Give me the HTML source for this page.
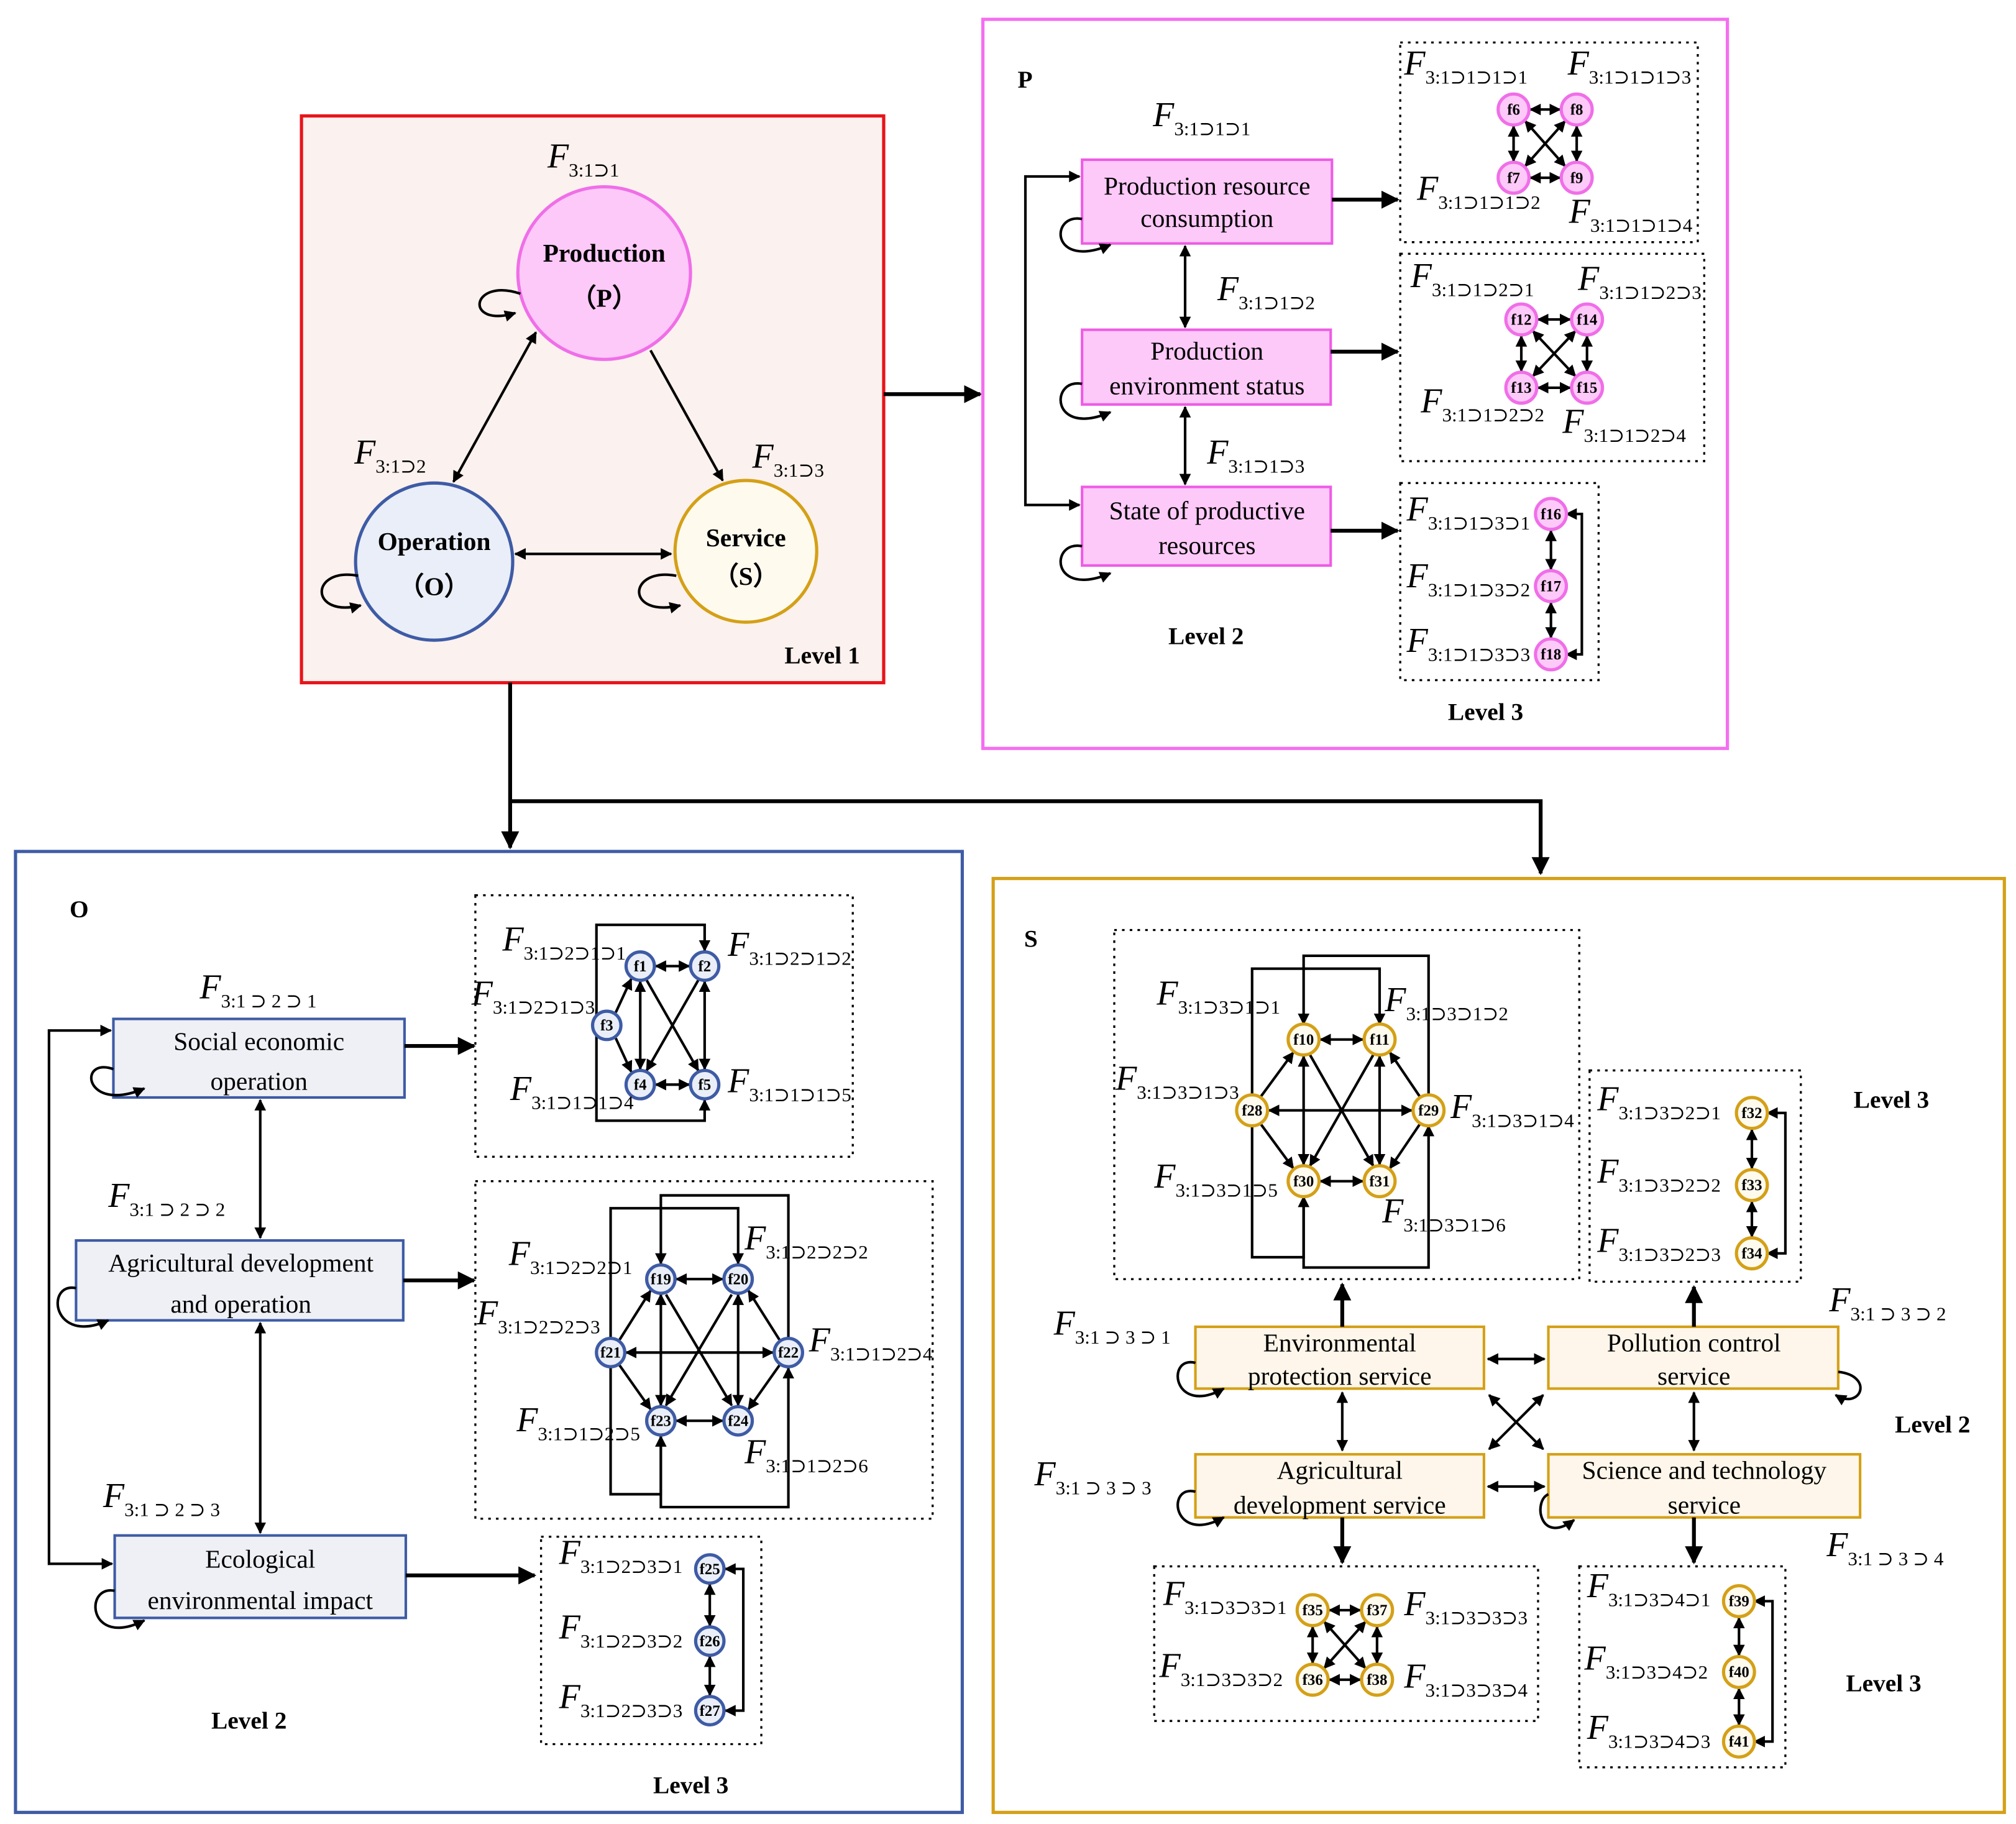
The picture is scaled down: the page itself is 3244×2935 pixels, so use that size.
<!DOCTYPE html>
<html><head><meta charset="utf-8"><style>
html,body{margin:0;padding:0;background:#fff}
svg{display:block}
text{font-family:"Liberation Serif","DejaVu Serif",serif;fill:#000}
.F{font-size:27px;font-style:italic}
.s{font-size:15px;font-style:normal}
.n{font-size:12px;font-weight:bold;text-anchor:middle}
.b{font-size:20px;text-anchor:middle}
.L{font-size:19px;font-weight:bold}
.a{stroke:#000;stroke-width:2;fill:none}
.ad{stroke:#000;stroke-width:2;fill:none;marker-end:url(#m);marker-start:url(#m)}
.ae{stroke:#000;stroke-width:2;fill:none;marker-end:url(#m)}
.ab{stroke:#000;stroke-width:3;fill:none;marker-end:url(#M)}
.dot{fill:none;stroke:#000;stroke-width:1.6;stroke-dasharray:2 4}
.pc{fill:#fdc9f8;stroke:#f06ee8;stroke-width:2.5}
.oc{fill:#e9eef8;stroke:#3e5ba5;stroke-width:2.5}
.sc{fill:#fffaee;stroke:#d4a017;stroke-width:2.5}
</style></head><body>
<svg width="3244" height="2935" viewBox="0 0 1565 1416" xmlns="http://www.w3.org/2000/svg">
<defs>
<marker id="m" viewBox="0 0 10 10" refX="9" refY="5" markerWidth="9" markerHeight="9" markerUnits="userSpaceOnUse" orient="auto-start-reverse"><path d="M0,0 L10,5 L0,10 z" fill="#000"/></marker>
<marker id="M" viewBox="0 0 10 10" refX="9" refY="5" markerWidth="14" markerHeight="14" markerUnits="userSpaceOnUse" orient="auto-start-reverse"><path d="M0,0 L10,5 L0,10 z" fill="#000"/></marker>
</defs>
<rect width="1565" height="1416" fill="#fff"/>

<!-- Level 1 -->
<rect x="234" y="90" width="452" height="440" fill="#fbf1ee" stroke="#e8141b" stroke-width="2.5"/>
<circle cx="469" cy="212" r="67" fill="#fdc9f8" stroke="#f06ee8" stroke-width="2.5"/>
<circle cx="337" cy="436" r="61" fill="#e9eef8" stroke="#3e5ba5" stroke-width="2.5"/>
<circle cx="579" cy="428" r="55" fill="#fffaee" stroke="#d4a017" stroke-width="2.5"/>
<text x="469" y="203" class="b" font-weight="bold">Production</text>
<text x="469" y="238" class="b" font-weight="bold">（P）</text>
<text x="337" y="427" class="b" font-weight="bold">Operation</text>
<text x="337" y="462" class="b" font-weight="bold">（O）</text>
<text x="579" y="424" class="b" font-weight="bold">Service</text>
<text x="579" y="454" class="b" font-weight="bold">（S）</text>
<text x="425" y="130" class="F">F<tspan class="s" dy="7">3:1⊃1</tspan></text>
<text x="275" y="360" class="F">F<tspan class="s" dy="7">3:1⊃2</tspan></text>
<text x="584" y="363" class="F">F<tspan class="s" dy="7">3:1⊃3</tspan></text>
<line x1="416" y1="258" x2="352" y2="374" class="ad"/>
<line x1="505" y1="272" x2="561" y2="373" class="ae"/>
<line x1="400" y1="430" x2="521" y2="430" class="ad"/>
<path d="M404,228 C365,215 360,255 400,243" class="ae"/>
<path d="M278,447 C240,440 240,480 280,470" class="ae"/>
<path d="M525,447 C487,440 485,480 528,470" class="ae"/>
<text x="609" y="515" class="L">Level 1</text>

<line x1="686" y1="306" x2="761" y2="306" class="ab"/>
<polyline points="396,530 396,658" class="ab"/>
<polyline points="396,622 1196,622 1196,678" class="ab"/>

<!-- P panel -->
<rect x="763" y="15" width="578" height="566" fill="#fff" stroke="#f46ef0" stroke-width="2.5"/>
<text x="790" y="68" class="L" font-size="22">P</text>
<rect x="840" y="124" width="194" height="65" fill="#fdc9f8" stroke="#ee5ce6" stroke-width="2"/>
<rect x="840" y="256" width="193" height="58" fill="#fdc9f8" stroke="#ee5ce6" stroke-width="2"/>
<rect x="840" y="378" width="193" height="61" fill="#fdc9f8" stroke="#ee5ce6" stroke-width="2"/>
<text x="937" y="151" class="b">Production resource</text><text x="937" y="176" class="b">consumption</text>
<text x="937" y="279" class="b">Production</text><text x="937" y="306" class="b">environment status</text>
<text x="937" y="403" class="b">State of productive</text><text x="937" y="430" class="b">resources</text>
<polyline points="838,137 796,137 796,392 838,392" class="ad"/>
<path d="M840,170 C815,165 815,210 862,190" class="ae"/>
<path d="M840,298 C815,293 815,340 862,320" class="ae"/>
<path d="M840,424 C815,419 815,465 862,445" class="ae"/>
<line x1="920" y1="191" x2="920" y2="254" class="ad"/>
<line x1="920" y1="316" x2="920" y2="376" class="ad"/>
<text x="895" y="98" class="F">F<tspan class="s" dy="7">3:1⊃1⊃1</tspan></text>
<text x="945" y="233" class="F">F<tspan class="s" dy="7">3:1⊃1⊃2</tspan></text>
<text x="937" y="360" class="F">F<tspan class="s" dy="7">3:1⊃1⊃3</tspan></text>
<line x1="1034" y1="155" x2="1085" y2="155" class="ab"/>
<line x1="1033" y1="273" x2="1085" y2="273" class="ab"/>
<line x1="1033" y1="412" x2="1085" y2="412" class="ab"/>

<rect x="1087" y="33" width="231" height="155" class="dot"/>
<rect x="1087" y="197" width="236" height="161" class="dot"/>
<rect x="1087" y="375" width="154" height="153" class="dot"/>
<!-- group P1 -->
<line x1="1188" y1="85" x2="1211" y2="85" class="ad"/><line x1="1188" y1="138" x2="1211" y2="138" class="ad"/>
<line x1="1175" y1="98" x2="1175" y2="125" class="ad"/><line x1="1224" y1="98" x2="1224" y2="125" class="ad"/>
<line x1="1184" y1="94" x2="1215" y2="129" class="ad"/><line x1="1215" y1="94" x2="1184" y2="129" class="ad"/>
<circle cx="1175" cy="85" r="12" class="pc"/><text x="1175" y="89" class="n">f6</text>
<circle cx="1224" cy="85" r="12" class="pc"/><text x="1224" y="89" class="n">f8</text>
<circle cx="1175" cy="138" r="12" class="pc"/><text x="1175" y="142" class="n">f7</text>
<circle cx="1224" cy="138" r="12" class="pc"/><text x="1224" y="142" class="n">f9</text>
<text x="1090" y="58" class="F">F<tspan class="s" dy="7">3:1⊃1⊃1⊃1</tspan></text>
<text x="1217" y="58" class="F">F<tspan class="s" dy="7">3:1⊃1⊃1⊃3</tspan></text>
<text x="1100" y="155" class="F">F<tspan class="s" dy="7">3:1⊃1⊃1⊃2</tspan></text>
<text x="1218" y="173" class="F">F<tspan class="s" dy="7">3:1⊃1⊃1⊃4</tspan></text>
<!-- group P2 -->
<line x1="1194" y1="248" x2="1219" y2="248" class="ad"/><line x1="1194" y1="301" x2="1219" y2="301" class="ad"/>
<line x1="1181" y1="261" x2="1181" y2="288" class="ad"/><line x1="1232" y1="261" x2="1232" y2="288" class="ad"/>
<line x1="1190" y1="257" x2="1223" y2="292" class="ad"/><line x1="1223" y1="257" x2="1190" y2="292" class="ad"/>
<circle cx="1181" cy="248" r="12" class="pc"/><text x="1181" y="252" class="n">f12</text>
<circle cx="1232" cy="248" r="12" class="pc"/><text x="1232" y="252" class="n">f14</text>
<circle cx="1181" cy="301" r="12" class="pc"/><text x="1181" y="305" class="n">f13</text>
<circle cx="1232" cy="301" r="12" class="pc"/><text x="1232" y="305" class="n">f15</text>
<text x="1095" y="223" class="F">F<tspan class="s" dy="7">3:1⊃1⊃2⊃1</tspan></text>
<text x="1225" y="225" class="F">F<tspan class="s" dy="7">3:1⊃1⊃2⊃3</tspan></text>
<text x="1103" y="320" class="F">F<tspan class="s" dy="7">3:1⊃1⊃2⊃2</tspan></text>
<text x="1213" y="336" class="F">F<tspan class="s" dy="7">3:1⊃1⊃2⊃4</tspan></text>
<!-- group P3 -->
<line x1="1204" y1="412" x2="1204" y2="442" class="ad"/><line x1="1204" y1="468" x2="1204" y2="495" class="ad"/>
<path d="M1216,399 L1228,399 L1228,508 L1216,508" class="ad"/>
<circle cx="1204" cy="399" r="12" class="pc"/><text x="1204" y="403" class="n">f16</text>
<circle cx="1204" cy="455" r="12" class="pc"/><text x="1204" y="459" class="n">f17</text>
<circle cx="1204" cy="508" r="12" class="pc"/><text x="1204" y="512" class="n">f18</text>
<text x="1092" y="404" class="F">F<tspan class="s" dy="7">3:1⊃1⊃3⊃1</tspan></text>
<text x="1092" y="456" class="F">F<tspan class="s" dy="7">3:1⊃1⊃3⊃2</tspan></text>
<text x="1092" y="506" class="F">F<tspan class="s" dy="7">3:1⊃1⊃3⊃3</tspan></text>
<text x="907" y="500" class="L">Level 2</text>
<text x="1124" y="559" class="L">Level 3</text>

<!-- O panel -->
<rect x="12" y="661" width="735" height="746" fill="#fff" stroke="#3e5ba5" stroke-width="2.5"/>
<text x="54" y="712" class="L" font-size="22">O</text>
<rect x="88" y="791" width="226" height="61" fill="#eef0f5" stroke="#3e5ba5" stroke-width="2"/>
<rect x="59" y="963" width="254" height="62" fill="#eef0f5" stroke="#3e5ba5" stroke-width="2"/>
<rect x="89" y="1192" width="226" height="64" fill="#eef0f5" stroke="#3e5ba5" stroke-width="2"/>
<text x="201" y="815" class="b">Social economic</text><text x="201" y="846" class="b">operation</text>
<text x="187" y="987" class="b">Agricultural development</text><text x="187" y="1019" class="b">and operation</text>
<text x="202" y="1217" class="b">Ecological</text><text x="202" y="1249" class="b">environmental impact</text>
<polyline points="86,800 38,800 38,1214 87,1214" class="ad"/>
<path d="M88,830 C60,820 65,865 112,845" class="ae"/>
<path d="M59,1000 C35,995 40,1045 84,1025" class="ae"/>
<path d="M89,1235 C65,1230 68,1280 112,1258" class="ae"/>
<line x1="202" y1="854" x2="202" y2="961" class="ad"/>
<line x1="202" y1="1027" x2="202" y2="1190" class="ad"/>
<text x="155" y="775" class="F">F<tspan class="s" dy="7">3:1 ⊃ 2 ⊃ 1</tspan></text>
<text x="84" y="937" class="F">F<tspan class="s" dy="7">3:1 ⊃ 2 ⊃ 2</tspan></text>
<text x="80" y="1170" class="F">F<tspan class="s" dy="7">3:1 ⊃ 2 ⊃ 3</tspan></text>
<line x1="314" y1="812" x2="368" y2="812" class="ab"/>
<line x1="313" y1="994" x2="368" y2="994" class="ab"/>
<line x1="315" y1="1223" x2="415" y2="1223" class="ab"/>
<rect x="369" y="695" width="293" height="203" class="dot"/>
<rect x="369" y="917" width="355" height="262" class="dot"/>
<rect x="420" y="1193" width="171" height="161" class="dot"/>
<!-- O group 1 -->
<line x1="509" y1="750" x2="535" y2="750" class="ad"/>
<line x1="509" y1="842" x2="535" y2="842" class="ad"/>
<line x1="497" y1="762" x2="497" y2="830" class="ad"/>
<line x1="547" y1="762" x2="547" y2="830" class="ad"/>
<line x1="478" y1="786" x2="490" y2="760" class="ae"/>
<line x1="478" y1="806" x2="490" y2="832" class="ae"/>
<line x1="502" y1="761" x2="542" y2="831" class="ae"/>
<line x1="542" y1="761" x2="502" y2="831" class="ae"/>
<polyline points="463,796 463,718 547,718 547,738" class="ae"/>
<polyline points="463,796 463,870 547,870 547,854" class="ae"/>
<circle cx="497" cy="750" r="11" class="oc"/><text x="497" y="754" class="n">f1</text>
<circle cx="547" cy="750" r="11" class="oc"/><text x="547" y="754" class="n">f2</text>
<circle cx="471" cy="796" r="11" class="oc"/><text x="471" y="800" class="n">f3</text>
<circle cx="497" cy="842" r="11" class="oc"/><text x="497" y="846" class="n">f4</text>
<circle cx="547" cy="842" r="11" class="oc"/><text x="547" y="846" class="n">f5</text>
<text x="390" y="738" class="F">F<tspan class="s" dy="7">3:1⊃2⊃1⊃1</tspan></text>
<text x="565" y="742" class="F">F<tspan class="s" dy="7">3:1⊃2⊃1⊃2</tspan></text>
<text x="366" y="780" class="F">F<tspan class="s" dy="7">3:1⊃2⊃1⊃3</tspan></text>
<text x="396" y="854" class="F">F<tspan class="s" dy="7">3:1⊃1⊃1⊃4</tspan></text>
<text x="565" y="848" class="F">F<tspan class="s" dy="7">3:1⊃1⊃1⊃5</tspan></text>
<!-- O group 2 -->
<line x1="525" y1="993" x2="561" y2="993" class="ad"/>
<line x1="525" y1="1103" x2="561" y2="1103" class="ad"/>
<line x1="486" y1="1050" x2="600" y2="1050" class="ad"/>
<line x1="513" y1="1005" x2="513" y2="1091" class="ad"/>
<line x1="573" y1="1005" x2="573" y2="1091" class="ad"/>
<line x1="481" y1="1040" x2="505" y2="1002" class="ae"/>
<line x1="481" y1="1060" x2="505" y2="1094" class="ae"/>
<line x1="605" y1="1040" x2="581" y2="1002" class="ae"/>
<line x1="605" y1="1060" x2="581" y2="1094" class="ae"/>
<line x1="517" y1="1005" x2="568" y2="1091" class="ae"/>
<line x1="568" y1="1005" x2="517" y2="1091" class="ae"/>
<polyline points="474,1062 474,1160 513,1160 513,1115" class="ae"/>
<polyline points="513,1115 513,1170 612,1170 612,1062" class="ae"/>
<polyline points="474,1038 474,938 573,938 573,981" class="ae"/>
<polyline points="612,1038 612,928 513,928 513,981" class="ae"/>
<circle cx="513" cy="993" r="11" class="oc"/><text x="513" y="997" class="n">f19</text>
<circle cx="573" cy="993" r="11" class="oc"/><text x="573" y="997" class="n">f20</text>
<circle cx="474" cy="1050" r="11" class="oc"/><text x="474" y="1054" class="n">f21</text>
<circle cx="612" cy="1050" r="11" class="oc"/><text x="612" y="1054" class="n">f22</text>
<circle cx="513" cy="1103" r="11" class="oc"/><text x="513" y="1107" class="n">f23</text>
<circle cx="573" cy="1103" r="11" class="oc"/><text x="573" y="1107" class="n">f24</text>
<text x="395" y="982" class="F">F<tspan class="s" dy="7">3:1⊃2⊃2⊃1</tspan></text>
<text x="578" y="970" class="F">F<tspan class="s" dy="7">3:1⊃2⊃2⊃2</tspan></text>
<text x="370" y="1028" class="F">F<tspan class="s" dy="7">3:1⊃2⊃2⊃3</tspan></text>
<text x="628" y="1049" class="F">F<tspan class="s" dy="7">3:1⊃1⊃2⊃4</tspan></text>
<text x="401" y="1111" class="F">F<tspan class="s" dy="7">3:1⊃1⊃2⊃5</tspan></text>
<text x="578" y="1136" class="F">F<tspan class="s" dy="7">3:1⊃1⊃2⊃6</tspan></text>
<!-- O group 3 -->
<line x1="551" y1="1230" x2="551" y2="1262" class="ad"/><line x1="551" y1="1286" x2="551" y2="1316" class="ad"/>
<path d="M563,1218 L577,1218 L577,1328 L563,1328" class="ad"/>
<circle cx="551" cy="1218" r="11" class="oc"/><text x="551" y="1222" class="n">f25</text>
<circle cx="551" cy="1274" r="11" class="oc"/><text x="551" y="1278" class="n">f26</text>
<circle cx="551" cy="1328" r="11" class="oc"/><text x="551" y="1332" class="n">f27</text>
<text x="434" y="1214" class="F">F<tspan class="s" dy="7">3:1⊃2⊃3⊃1</tspan></text>
<text x="434" y="1272" class="F">F<tspan class="s" dy="7">3:1⊃2⊃3⊃2</tspan></text>
<text x="434" y="1326" class="F">F<tspan class="s" dy="7">3:1⊃2⊃3⊃3</tspan></text>
<text x="164" y="1342" class="L">Level 2</text>
<text x="507" y="1392" class="L">Level 3</text>

<!-- S panel -->
<rect x="771" y="682" width="785" height="725" fill="#fff" stroke="#d4a017" stroke-width="2.5"/>
<text x="795" y="735" class="L" font-size="22">S</text>
<rect x="928" y="1030" width="224" height="48" fill="#fef6ea" stroke="#d4a017" stroke-width="2"/>
<rect x="1202" y="1030" width="225" height="48" fill="#fef6ea" stroke="#d4a017" stroke-width="2"/>
<rect x="928" y="1129" width="224" height="49" fill="#fef6ea" stroke="#d4a017" stroke-width="2"/>
<rect x="1202" y="1129" width="242" height="49" fill="#fef6ea" stroke="#d4a017" stroke-width="2"/>
<text x="1040" y="1049" class="b">Environmental</text><text x="1040" y="1075" class="b">protection service</text>
<text x="1315" y="1049" class="b">Pollution control</text><text x="1315" y="1075" class="b">service</text>
<text x="1040" y="1148" class="b">Agricultural</text><text x="1040" y="1175" class="b">development service</text>
<text x="1323" y="1148" class="b">Science and technology</text><text x="1323" y="1175" class="b">service</text>
<line x1="1155" y1="1055" x2="1199" y2="1055" class="ad"/>
<line x1="1155" y1="1154" x2="1199" y2="1154" class="ad"/>
<line x1="1042" y1="1081" x2="1042" y2="1126" class="ad"/>
<line x1="1315" y1="1081" x2="1315" y2="1126" class="ad"/>
<line x1="1156" y1="1083" x2="1198" y2="1125" class="ad"/>
<line x1="1198" y1="1083" x2="1156" y2="1125" class="ad"/>
<line x1="1042" y1="1030" x2="1042" y2="997" class="ab"/>
<line x1="1315" y1="1030" x2="1315" y2="999" class="ab"/>
<line x1="1042" y1="1178" x2="1042" y2="1213" class="ab"/>
<line x1="1315" y1="1178" x2="1315" y2="1213" class="ab"/>
<path d="M928,1058 C905,1052 910,1100 950,1078" class="ae"/>
<path d="M1427,1065 C1455,1068 1445,1095 1425,1083" class="ae"/>
<path d="M928,1158 C905,1152 910,1200 950,1178" class="ae"/>
<path d="M1202,1160 C1190,1165 1195,1200 1222,1180" class="ae"/>
<text x="818" y="1036" class="F">F<tspan class="s" dy="7">3:1 ⊃ 3 ⊃ 1</tspan></text>
<text x="1420" y="1018" class="F">F<tspan class="s" dy="7">3:1 ⊃ 3 ⊃ 2</tspan></text>
<text x="803" y="1153" class="F">F<tspan class="s" dy="7">3:1 ⊃ 3 ⊃ 3</tspan></text>
<text x="1418" y="1208" class="F">F<tspan class="s" dy="7">3:1 ⊃ 3 ⊃ 4</tspan></text>
<rect x="865" y="722" width="361" height="271" class="dot"/>
<rect x="1234" y="831" width="164" height="164" class="dot"/>
<rect x="896" y="1216" width="298" height="120" class="dot"/>
<rect x="1226" y="1216" width="160" height="156" class="dot"/>
<!-- S group 1 -->
<line x1="1025" y1="807" x2="1058" y2="807" class="ad"/>
<line x1="1025" y1="917" x2="1058" y2="917" class="ad"/>
<line x1="985" y1="862" x2="1096" y2="862" class="ad"/>
<line x1="1012" y1="820" x2="1012" y2="904" class="ad"/>
<line x1="1071" y1="820" x2="1071" y2="904" class="ad"/>
<line x1="979" y1="851" x2="1004" y2="817" class="ae"/>
<line x1="979" y1="873" x2="1004" y2="907" class="ae"/>
<line x1="1102" y1="851" x2="1079" y2="817" class="ae"/>
<line x1="1102" y1="873" x2="1079" y2="907" class="ae"/>
<line x1="1017" y1="819" x2="1066" y2="905" class="ae"/>
<line x1="1066" y1="819" x2="1017" y2="905" class="ae"/>
<polyline points="972,874 972,976 1012,976 1012,929" class="ae"/>
<polyline points="1012,929 1012,946 1012,984 1109,984 1109,874" class="ae"/>
<polyline points="972,850 972,752 1071,752 1071,795" class="ae"/>
<polyline points="1109,850 1109,742 1012,742 1012,795" class="ae"/>
<circle cx="1012" cy="807" r="12" class="sc"/><text x="1012" y="811" class="n">f10</text>
<circle cx="1071" cy="807" r="12" class="sc"/><text x="1071" y="811" class="n">f11</text>
<circle cx="972" cy="862" r="12" class="sc"/><text x="972" y="866" class="n">f28</text>
<circle cx="1109" cy="862" r="12" class="sc"/><text x="1109" y="866" class="n">f29</text>
<circle cx="1012" cy="917" r="12" class="sc"/><text x="1012" y="921" class="n">f30</text>
<circle cx="1071" cy="917" r="12" class="sc"/><text x="1071" y="921" class="n">f31</text>
<text x="898" y="780" class="F">F<tspan class="s" dy="7">3:1⊃3⊃1⊃1</tspan></text>
<text x="1075" y="785" class="F">F<tspan class="s" dy="7">3:1⊃3⊃1⊃2</tspan></text>
<text x="866" y="846" class="F">F<tspan class="s" dy="7">3:1⊃3⊃1⊃3</tspan></text>
<text x="1126" y="868" class="F">F<tspan class="s" dy="7">3:1⊃3⊃1⊃4</tspan></text>
<text x="896" y="922" class="F">F<tspan class="s" dy="7">3:1⊃3⊃1⊃5</tspan></text>
<text x="1073" y="949" class="F">F<tspan class="s" dy="7">3:1⊃3⊃1⊃6</tspan></text>
<!-- S group 2 -->
<line x1="1360" y1="877" x2="1360" y2="907" class="ad"/><line x1="1360" y1="933" x2="1360" y2="960" class="ad"/>
<path d="M1372,864 L1386,864 L1386,973 L1372,973" class="ad"/>
<circle cx="1360" cy="864" r="12" class="sc"/><text x="1360" y="868" class="n">f32</text>
<circle cx="1360" cy="920" r="12" class="sc"/><text x="1360" y="924" class="n">f33</text>
<circle cx="1360" cy="973" r="12" class="sc"/><text x="1360" y="977" class="n">f34</text>
<text x="1240" y="862" class="F">F<tspan class="s" dy="7">3:1⊃3⊃2⊃1</tspan></text>
<text x="1240" y="918" class="F">F<tspan class="s" dy="7">3:1⊃3⊃2⊃2</tspan></text>
<text x="1240" y="972" class="F">F<tspan class="s" dy="7">3:1⊃3⊃2⊃3</tspan></text>
<!-- S group 3 -->
<line x1="1032" y1="1250" x2="1056" y2="1250" class="ad"/><line x1="1032" y1="1304" x2="1056" y2="1304" class="ad"/>
<line x1="1019" y1="1263" x2="1019" y2="1291" class="ad"/><line x1="1069" y1="1263" x2="1069" y2="1291" class="ad"/>
<line x1="1028" y1="1259" x2="1060" y2="1295" class="ad"/><line x1="1060" y1="1259" x2="1028" y2="1295" class="ad"/>
<circle cx="1019" cy="1250" r="12" class="sc"/><text x="1019" y="1254" class="n">f35</text>
<circle cx="1069" cy="1250" r="12" class="sc"/><text x="1069" y="1254" class="n">f37</text>
<circle cx="1019" cy="1304" r="12" class="sc"/><text x="1019" y="1308" class="n">f36</text>
<circle cx="1069" cy="1304" r="12" class="sc"/><text x="1069" y="1308" class="n">f38</text>
<text x="903" y="1246" class="F">F<tspan class="s" dy="7">3:1⊃3⊃3⊃1</tspan></text>
<text x="1090" y="1254" class="F">F<tspan class="s" dy="7">3:1⊃3⊃3⊃3</tspan></text>
<text x="900" y="1302" class="F">F<tspan class="s" dy="7">3:1⊃3⊃3⊃2</tspan></text>
<text x="1090" y="1310" class="F">F<tspan class="s" dy="7">3:1⊃3⊃3⊃4</tspan></text>
<!-- S group 4 -->
<line x1="1350" y1="1256" x2="1350" y2="1285" class="ad"/><line x1="1350" y1="1311" x2="1350" y2="1339" class="ad"/>
<path d="M1362,1243 L1376,1243 L1376,1352 L1362,1352" class="ad"/>
<circle cx="1350" cy="1243" r="12" class="sc"/><text x="1350" y="1247" class="n">f39</text>
<circle cx="1350" cy="1298" r="12" class="sc"/><text x="1350" y="1302" class="n">f40</text>
<circle cx="1350" cy="1352" r="12" class="sc"/><text x="1350" y="1356" class="n">f41</text>
<text x="1232" y="1240" class="F">F<tspan class="s" dy="7">3:1⊃3⊃4⊃1</tspan></text>
<text x="1230" y="1296" class="F">F<tspan class="s" dy="7">3:1⊃3⊃4⊃2</tspan></text>
<text x="1232" y="1350" class="F">F<tspan class="s" dy="7">3:1⊃3⊃4⊃3</tspan></text>
<text x="1439" y="860" class="L">Level 3</text>
<text x="1471" y="1112" class="L">Level 2</text>
<text x="1433" y="1313" class="L">Level 3</text>
</svg>
</body></html>
